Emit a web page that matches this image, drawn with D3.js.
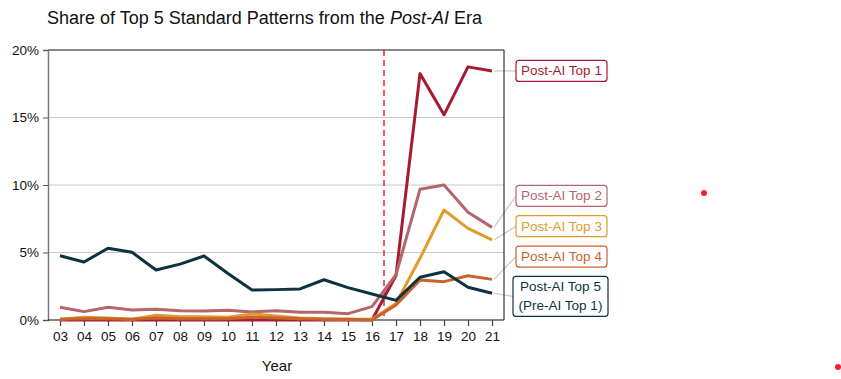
<!DOCTYPE html>
<html><head><meta charset="utf-8">
<script src="https://cdn.jsdelivr.net/npm/d3@7"></script>
<style>body{margin:0;background:#fff}svg{display:block;font-family:"Liberation Sans",Arial,sans-serif}</style>
</head><body><svg id="c" width="841" height="379"></svg>
<script>
const years = ["03","04","05","06","07","08","09","10","11","12","13","14","15","16","17","18","19","20","21"];
const top1 = [0,0,0,0,0,0,0,0,0,0,0,0,0,0,3.3,18.25,15.2,18.75,18.45];
const top2 = [0.94,0.62,0.94,0.74,0.8,0.69,0.67,0.72,0.6,0.68,0.57,0.57,0.47,0.99,3.35,9.68,10.0,7.98,6.86];
const top3 = [0.05,0.2,0.15,0.05,0.35,0.25,0.25,0.2,0.45,0.3,0.15,0.1,0.05,0.05,1.23,4.57,8.15,6.79,5.93];
const top4 = [0.05,0.1,0.1,0.05,0.15,0.1,0.1,0.1,0.2,0.15,0.1,0.05,0.05,0.0,1.11,2.96,2.84,3.28,3.01];
const top5 = [4.76,4.3,5.31,5.02,3.7,4.14,4.74,3.45,2.22,2.25,2.3,2.98,2.4,1.93,1.45,3.17,3.58,2.43,1.98];
const yTicks = [0,5,10,15,20];
const seriesNames = ["Post-AI Top 1","Post-AI Top 2","Post-AI Top 3","Post-AI Top 4","Post-AI Top 5\n(Pre-AI Top 1)"];
const seriesColors = ["#a51c30","#b5656b","#e09b2d","#c9622b","#0d3340"];
const labelValues = [18.45,9.2,6.95,4.7,1.75];
const strayDots = [[704,193],[838,367]];

const svg = d3.select("#c");
const L=48,R=504,T=50,B=320;
const x = d3.scalePoint().domain(years).range([60,492]);
const y = d3.scaleLinear().domain([0,20]).range([B,T]);

svg.append("text").attr("x",47).attr("y",24).attr("font-size",18).attr("fill","#111")
  .html('Share of Top 5 Standard Patterns from the <tspan font-style="italic">Post-AI</tspan> Era');

// grid
svg.append("g").selectAll("line").data(yTicks.filter(d=>d>0&&d<20)).join("line")
  .attr("x1",L).attr("x2",R).attr("y1",d=>y(d)).attr("y2",d=>y(d))
  .attr("stroke","#c8c8c8").attr("stroke-width",1);

// frame
svg.append("line").attr("x1",L).attr("x2",R).attr("y1",T).attr("y2",T).attr("stroke","#111");
svg.append("line").attr("x1",R).attr("x2",R).attr("y1",T).attr("y2",B).attr("stroke","#111");

// axes
const ya = svg.append("g").attr("transform",`translate(${L},0)`)
  .call(d3.axisLeft(y).tickValues(yTicks).tickFormat(d=>d+"%").tickSize(5).tickPadding(4));
ya.select(".domain").attr("stroke","#777").attr("stroke-width",1.5);
ya.selectAll(".tick line").attr("stroke","#555");
ya.selectAll("text").attr("font-size",13.5).attr("fill","#111").attr("font-family","Liberation Sans, Arial, sans-serif");

const xa = svg.append("g").attr("transform",`translate(0,${B})`)
  .call(d3.axisBottom(x).tickSize(6).tickPadding(5));
xa.select(".domain").attr("d",`M${L},0H${R}`).attr("stroke","#111").attr("stroke-width",1.2);
xa.selectAll(".tick line").attr("stroke","#444").attr("stroke-width",1.2);
xa.selectAll("text").attr("font-size",13.5).attr("fill","#111").attr("font-family","Liberation Sans, Arial, sans-serif");

svg.append("text").attr("x",277).attr("y",371).attr("text-anchor","middle").attr("font-size",15).attr("fill","#111").text("Year");

// dashed divider
const xDiv = (x("16")+x("17"))/2;
svg.append("line").attr("x1",xDiv).attr("x2",xDiv).attr("y1",T).attr("y2",B)
  .attr("stroke","#e8242e").attr("stroke-width",1.5).attr("stroke-dasharray","6,4");

const data = [top1,top2,top3,top4,top5];
const line = d3.line().x((d,i)=>x(years[i])).y(d=>y(d));
const order = [0,1,2,3,4];
order.forEach(k=>{
  svg.append("path").datum(data[k]).attr("d",line).attr("fill","none")
    .attr("stroke",seriesColors[k]).attr("stroke-width",3).attr("stroke-linejoin","round");
});

// labels
const bx = 516;
data.forEach((s,k)=>{
  const last = s[s.length-1];
  const ly = y(labelValues[k]);
  const lines = seriesNames[k].split("\n");
  const g = svg.append("g");
  const h = lines.length>1 ? 40 : 21;
  const w = lines.length>1 ? 95 : 91;
  const left = lines.length>1 ? 513 : bx;
  svg.insert("line","g").attr("x1",x("21")+2).attr("y1",y(last)).attr("x2",left).attr("y2",ly)
    .attr("stroke","#c8c8c8").attr("stroke-width",1.2);
  g.append("rect").attr("x",left).attr("y",ly-h/2).attr("width",w).attr("height",h).attr("rx",3)
    .attr("fill","#fff").attr("stroke",seriesColors[k]).attr("stroke-width",1.2);
  lines.forEach((t,i)=>{
    g.append("text").attr("x",left+w/2).attr("y",ly-h/2+15+i*19).attr("text-anchor","middle")
      .attr("font-size",13.5).attr("fill",seriesColors[k]).text(t);
  });
});

svg.append("g").selectAll("circle").data(strayDots).join("circle")
  .attr("cx",d=>d[0]).attr("cy",d=>d[1]).attr("r",3).attr("fill","#e8242e");
</script></body></html>
